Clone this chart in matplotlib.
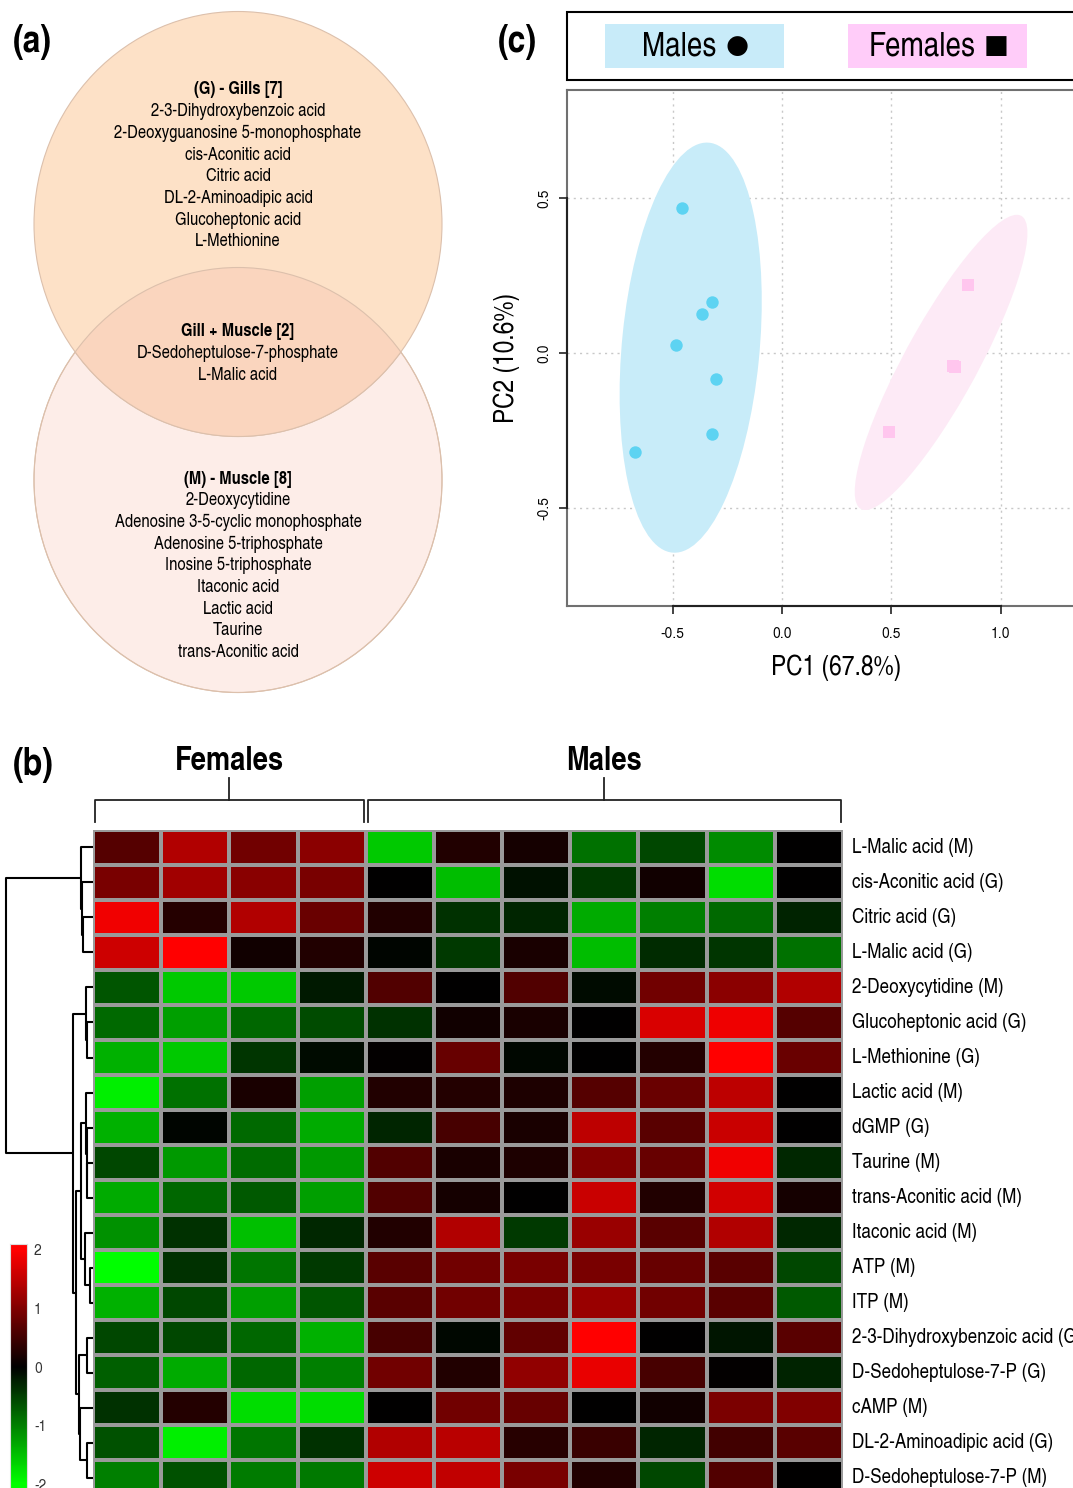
import numpy as np
import matplotlib
matplotlib.use('Agg')
from matplotlib import pyplot as plt
from matplotlib.colors import LinearSegmentedColormap
from matplotlib.patches import Ellipse, Rectangle

NARROW = ['TeX Gyre Heros Cn', 'Liberation Sans Narrow', 'Liberation Sans', 'DejaVu Sans']
PLAIN = ['TeX Gyre Heros', 'Liberation Sans', 'DejaVu Sans']
plt.rcParams['font.family'] = NARROW
plt.rcParams['axes.unicode_minus'] = False

# ---- data ----
gills = ["2-3-Dihydroxybenzoic acid", "2-Deoxyguanosine 5-monophosphate",
         "cis-Aconitic acid", "Citric acid", "DL-2-Aminoadipic acid",
         "Glucoheptonic acid", "L-Methionine"]
shared = ["D-Sedoheptulose-7-phosphate", "L-Malic acid"]
muscle = ["2-Deoxycytidine", "Adenosine 3-5-cyclic monophosphate",
          "Adenosine 5-triphosphate", "Inosine 5-triphosphate", "Itaconic acid",
          "Lactic acid", "Taurine", "trans-Aconitic acid"]

rows = ["L-Malic acid (M)", "cis-Aconitic acid (G)", "Citric acid (G)",
        "L-Malic acid (G)", "2-Deoxycytidine (M)", "Glucoheptonic acid (G)",
        "L-Methionine (G)", "Lactic acid (M)", "dGMP (G)", "Taurine (M)",
        "trans-Aconitic acid (M)", "Itaconic acid (M)", "ATP (M)", "ITP (M)",
        "2-3-Dihydroxybenzoic acid (G)", "D-Sedoheptulose-7-P (G)", "cAMP (M)",
        "DL-2-Aminoadipic acid (G)", "D-Sedoheptulose-7-P (M)"]
groups = ["Females", "Males"]
group_n = [4, 7]

# z-scores, columns: 4 females then 7 males
zvals = np.array([
    [0.67, 1.38, 0.88, 1.08, -1.57, 0.25, 0.17, -0.88, -0.55, -1.08, 0.0],
    [0.94, 1.25, 1.07, 0.94, 0.0, -1.47, -0.14, -0.45, 0.14, -1.73, 0.0],
    [1.88, 0.29, 1.38, 0.82, 0.25, -0.38, -0.29, -1.33, -1.0, -0.82, -0.27],
    [1.6, 2.0, 0.14, 0.25, -0.04, -0.45, 0.19, -1.47, -0.33, -0.42, -0.88],
    [-0.67, -1.57, -1.57, -0.19, 0.63, 0.0, 0.63, -0.08, 0.88, 1.08, 1.38],
    [-0.82, -1.25, -0.8, -0.58, -0.38, 0.14, 0.19, 0.0, 1.69, 1.87, 0.67],
    [-1.38, -1.57, -0.42, -0.08, 0.03, 0.8, -0.06, 0.0, 0.27, 2.0, 0.82],
    [-1.87, -0.88, 0.19, -1.25, 0.25, 0.27, 0.22, 0.67, 0.82, 1.47, 0.0],
    [-1.38, -0.04, -0.82, -1.33, -0.29, 0.55, 0.2, 1.47, 0.7, 1.57, 0.0],
    [-0.55, -1.2, -0.83, -1.2, 0.63, 0.2, 0.22, 1.0, 0.8, 1.88, -0.31],
    [-1.33, -0.8, -0.7, -1.25, 0.63, 0.16, 0.0, 1.57, 0.25, 1.63, 0.16],
    [-1.13, -0.38, -1.5, -0.31, 0.25, 1.38, -0.44, 1.2, 0.69, 1.38, -0.31],
    [-2.0, -0.38, -0.92, -0.44, 0.69, 0.88, 0.94, 0.94, 0.8, 0.69, -0.56],
    [-1.38, -0.55, -1.25, -0.67, 0.69, 0.88, 0.94, 1.2, 0.88, 0.69, -0.7],
    [-0.55, -0.56, -0.8, -1.38, 0.56, -0.06, 0.75, 2.0, 0.0, -0.16, 0.69],
    [-0.75, -1.33, -0.8, -1.0, 0.88, 0.25, 1.13, 1.82, 0.55, 0.03, -0.27],
    [-0.38, 0.27, -1.73, -1.73, 0.0, 0.88, 0.8, 0.0, 0.13, 0.96, 1.0],
    [-0.63, -1.87, -0.92, -0.38, 1.38, 1.44, 0.31, 0.45, -0.29, 0.5, 0.7],
    [-1.0, -0.63, -0.96, -0.94, 1.6, 1.5, 0.94, 0.25, -0.55, 0.63, 0.0],
])

# row dendrogram merges: (child a, child b, height); leaves are 0..18, new nodes 19..
merges = [(2, 3, 10), (1, 19, 11), (0, 20, 12), (5, 6, 6), (4, 22, 7),
          (9, 10, 6), (8, 24, 6.5), (7, 25, 7.5), (12, 13, 3), (11, 27, 8),
          (26, 28, 12), (14, 15, 6), (17, 18, 6), (16, 31, 13), (30, 32, 14),
          (29, 33, 17), (23, 34, 20), (21, 35, 87)]

# PCA scores
male_pc1 = np.array([-0.457, -0.32, -0.365, -0.485, -0.303, -0.32, -0.672])
male_pc2 = np.array([0.468, 0.165, 0.126, 0.026, -0.085, -0.26, -0.32])
female_pc1 = np.array([0.85, 0.78, 0.79, 0.49])
female_pc2 = np.array([0.22, -0.042, -0.045, -0.255])

# ---- figure ----
W, H = 1073, 1488
fig = plt.figure(figsize=(W / 100, H / 100), dpi=100)


def box(x0, y0, x1, y1):
    # pixel box (top-left origin) -> figure fraction
    return [x0 / W, 1 - y1 / H, (x1 - x0) / W, (y1 - y0) / H]


bg = fig.add_axes([0, 0, 1, 1])
bg.set_xlim(0, W)
bg.set_ylim(H, 0)
bg.axis('off')

# (a) Venn
edge = '#DCC0AC'
bot = Ellipse((238, 480), 408, 425, fc='#FDEDE8', ec=edge, lw=0.8)
top = Ellipse((238, 224), 408, 425, fc='#FDE1C7', ec=edge, lw=0.8)
bg.add_patch(bot)
bg.add_patch(top)
ov = Ellipse((238, 224), 408, 425, fc='#FAD5BE', ec=edge, lw=0.8)
bg.add_patch(ov)
ov.set_clip_path(bot)
bg.add_patch(Ellipse((238, 480), 408, 425, fc='none', ec=edge, lw=0.8))


def venn_block(y0, title, items):
    bg.text(238, y0, title, ha='center', va='center', fontsize=13, fontweight='bold')
    for k, s in enumerate(items):
        bg.text(238, y0 + 21.7 * (k + 1), s, ha='center', va='center', fontsize=13)


venn_block(90, "(G) - Gills [7]", gills)
venn_block(332, "Gill + Muscle [2]", shared)
venn_block(479, "(M) - Muscle [8]", muscle)

for lab, (x, y) in zip(["(a)", "(b)", "(c)"], [(32, 42), (33, 765), (517, 42)]):
    bg.text(x, y, lab, ha='center', va='center', fontsize=28, fontweight='bold')

# (b) heatmap
hx0, hx1, hy0, hy1 = 93, 843, 830, 1495
ncol = zvals.shape[1]
nrow = zvals.shape[0]
cw = (hx1 - hx0) / ncol
cmap = LinearSegmentedColormap.from_list('gbr', ['#00FF00', '#000000', '#FF0000'])

hm = fig.add_axes(box(hx0, hy0, hx1, hy1))
hm.pcolormesh(zvals, cmap=cmap, vmin=-2, vmax=2, edgecolors='#9A9A9A', linewidth=1.5)
hm.set_xlim(0, ncol)
hm.set_ylim(nrow, 0)
hm.axis('off')
for i, lab in enumerate(rows):
    hm.text(ncol + 9 / cw, i + 0.5, lab, ha='left', va='center', fontsize=15, clip_on=False)

# column group brackets
start = 0
for g, n in zip(groups, group_n):
    xl = hx0 + start * cw + 2
    xr = hx0 + (start + n) * cw - 2
    xm = (xl + xr) / 2
    bg.plot([xl, xl, xr, xr], [822, 800, 800, 822], color='#222222', lw=1.3)
    bg.plot([xm, xm], [800, 778], color='#222222', lw=1.3)
    bg.text(xm, 761, g, ha='center', va='center', fontsize=24, fontweight='bold')
    start += n

# row dendrogram
dn = fig.add_axes(box(0, hy0, hx0, hy1))
dn.set_xlim(hx0, 0)
dn.set_ylim(nrow, 0)
dn.axis('off')
pos = {i: i + 0.5 for i in range(nrow)}
hgt = {i: 0.0 for i in range(nrow)}
for k, (a, b, h) in enumerate(merges):
    dn.plot([hgt[a], h, h, hgt[b]], [pos[a], pos[a], pos[b], pos[b]],
            color='black', lw=1.5, solid_capstyle='butt')
    pos[nrow + k] = (pos[a] + pos[b]) / 2
    hgt[nrow + k] = h

# colour key
cb = fig.add_axes(box(10, 1244, 27, 1490))
grad = np.linspace(-2.1, 2.1, 256).reshape(-1, 1)
cb.imshow(grad, aspect='auto', cmap=cmap, vmin=-2, vmax=2, origin='lower',
          extent=[0, 1, -2.1, 2.1])
cb.set_xticks([])
cb.yaxis.tick_right()
cb.set_yticks([-2, -1, 0, 1, 2])
cb.set_yticklabels(['-2', '-1', '0', '1', '2'], family=PLAIN)
cb.tick_params(axis='y', length=0, pad=5, labelsize=10, labelcolor='#333333')
for s in cb.spines.values():
    s.set_color('#DDDDDD')

# (c) PCA legend box
bg.add_patch(Rectangle((567, 12), 560, 68, fc='white', ec='black', lw=1.5))
bg.add_patch(Rectangle((605, 24), 179, 44, fc='#C8EBF9', ec='none'))
bg.add_patch(Rectangle((848, 24), 179, 44, fc='#FFCCF9', ec='none'))
bg.text(679, 47, "Males", ha='center', va='center', fontsize=24.5)
bg.text(737, 46, "\u25CF", ha='center', va='center', fontsize=19, family='DejaVu Sans')
bg.text(922, 47, "Females", ha='center', va='center', fontsize=24.5)
bg.text(996, 46, "\u25A0", ha='center', va='center', fontsize=19, family='DejaVu Sans')

pc = fig.add_axes(box(567, 90, 1180, 606))
pc.set_xlim(-0.983, 1.82)
pc.set_ylim(-0.816, 0.848)


def conf_ellipse(x, y, chi2=5.991, **kw):
    cov = np.cov(x, y)
    ev, vec = np.linalg.eigh(cov)
    order = ev.argsort()[::-1]
    ev, vec = ev[order], vec[:, order]
    ang = np.degrees(np.arctan2(vec[1, 0], vec[0, 0]))
    w, h = 2 * np.sqrt(ev * chi2)
    return Ellipse((x.mean(), y.mean()), w, h, angle=ang, **kw)


pc.add_patch(conf_ellipse(male_pc1, male_pc2, fc='#C8ECF9', ec='none', zorder=1))
pc.add_patch(conf_ellipse(female_pc1, female_pc2, fc='#FDEAF6', ec='none', zorder=1))
pc.scatter(male_pc1, male_pc2, s=80, marker='o', color='#5DD3F2', lw=0, zorder=3)
pc.scatter(female_pc1, female_pc2, s=75, marker='s', color='#FFC6EE', lw=0, zorder=3)

xt = [-0.5, 0.0, 0.5, 1.0]
yt = [-0.5, 0.0, 0.5]
pc.set_xticks(xt)
pc.set_xticklabels(['-0.5', '0.0', '0.5', '1.0'], family=PLAIN, fontsize=10)
pc.set_yticks(yt)
pc.set_yticklabels(['-0.5', '0.0', '0.5'], family=PLAIN, fontsize=10,
                   rotation=90, va='center')
pc.grid(True, ls=(0, (1.5, 3)), color='#C8C8C8', lw=1)
pc.set_axisbelow(True)
pc.tick_params(direction='out', length=6, width=1.2, color='#222222')
pc.tick_params(axis='x', pad=9)
pc.tick_params(axis='y', pad=5)
for s in pc.spines.values():
    s.set_color('#707070')
    s.set_linewidth(1.5)
# base-R style axis lines spanning the ticks
pc.plot([xt[0], xt[-1]], [pc.get_ylim()[0]] * 2, color='#222222', lw=1.5,
        clip_on=False, zorder=5)
pc.plot([pc.get_xlim()[0]] * 2, [yt[0], yt[-1]], color='#222222', lw=1.5,
        clip_on=False, zorder=5)

bg.text(836, 668, "PC1 (67.8%)", ha='center', va='center', fontsize=20)
bg.text(507, 358, "PC2 (10.6%)", ha='center', va='center', fontsize=20, rotation=90)

fig.savefig('out.png', dpi=100)
